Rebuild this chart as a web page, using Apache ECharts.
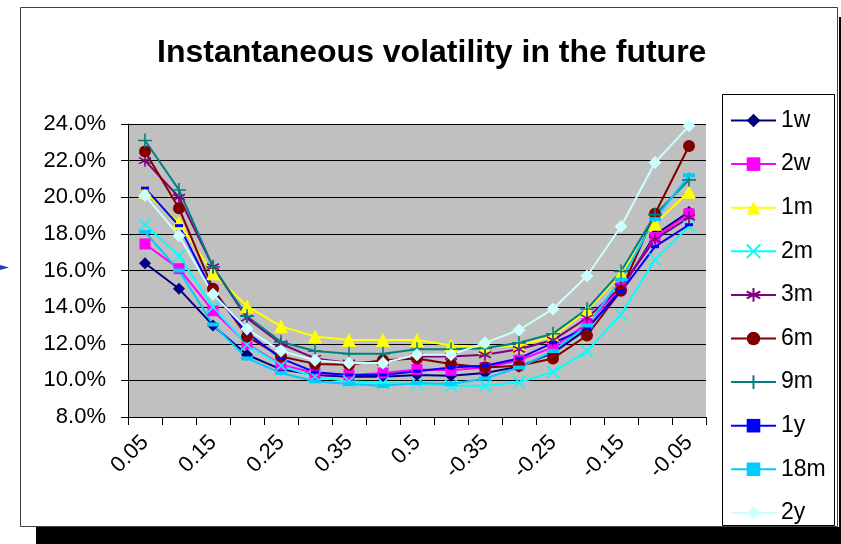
<!DOCTYPE html>
<html>
<head>
<meta charset="utf-8">
<script src="https://cdn.jsdelivr.net/npm/echarts@6/dist/echarts.min.js"></script>
<style>
html,body{margin:0;padding:0;background:#fff;}
#c{width:841px;height:544px;}
</style>
</head>
<body>
<div id="c"></div>
<script>
// ---- data (volatility in %) ----
const categories = ['0.05','0.1','0.15','0.2','0.25','0.3','0.35','0.4','0.5','-0.4','-0.35','-0.3','-0.25','-0.2','-0.15','-0.1','-0.05'];
const yTicks = [8, 10, 12, 14, 16, 18, 20, 22, 24];
const seriesNames = ['1w','2w','1m','2m','3m','6m','9m','1y','18m','2y'];
const w1  = [16.4, 15.0, 13.0, 11.4, 10.6, 10.3, 10.2, 10.2, 10.3, 10.25, 10.4, 10.75, 11.5, 12.8, 14.95, 17.95, 19.2];
const w2  = [17.45, 16.1, 13.8, 12.0, 10.85, 10.4, 10.3, 10.4, 10.6, 10.55, 10.7, 11.1, 11.8, 13.1, 15.05, 17.8, 19.1];
const m1  = [20.3, 18.6, 15.85, 14.05, 12.95, 12.4, 12.2, 12.2, 12.2, 11.9, 11.8, 11.9, 12.4, 13.8, 15.85, 18.55, 20.3];
const m2  = [18.5, 16.8, 14.0, 11.95, 10.8, 10.2, 9.95, 9.85, 9.8, 9.7, 9.7, 9.9, 10.45, 11.6, 13.6, 16.6, 18.4];
const m3  = [22.0, 20.0, 16.2, 13.4, 12.0, 11.2, 10.95, 11.0, 11.3, 11.3, 11.4, 11.7, 12.2, 13.4, 15.1, 17.7, 18.9];
const m6  = [22.5, 19.4, 15.0, 12.4, 11.3, 10.9, 10.85, 11.1, 11.2, 10.9, 10.7, 10.8, 11.2, 12.45, 14.9, 19.1, 22.8];
const m9  = [23.1, 20.4, 16.2, 13.5, 12.1, 11.6, 11.45, 11.45, 11.7, 11.7, 11.75, 12.05, 12.55, 13.9, 15.95, 19.05, 20.95];
const y1  = [20.5, 18.45, 14.8, 12.6, 11.2, 10.45, 10.3, 10.3, 10.5, 10.7, 10.8, 11.2, 12.05, 12.85, 14.85, 17.3, 18.5];
const m18 = [18.1, 16.0, 13.05, 11.2, 10.4, 9.95, 9.8, 9.7, 9.85, 9.8, 10.1, 10.7, 11.6, 13.0, 15.5, 18.8, 21.2];
const y2  = [20.1, 17.9, 14.7, 12.8, 11.6, 11.1, 10.95, 10.95, 11.4, 11.4, 12.05, 12.75, 13.9, 15.7, 18.4, 21.9, 23.9];
const seriesData = [w1, w2, m1, m2, m3, m6, m9, y1, m18, y2];

// ---- styles ----
const colors = ['#000080','#FF00FF','#FFFF00','#00FFFF','#800080','#800000','#008080','#0000FF','#00CCFF','#CCFFFF'];
const CROSS = 'path://M0,0L10,10M10,0L0,10';
const STAR = 'path://M5,0L5,10M0,2.5L10,7.5M0,7.5L10,2.5';
const PLUS = 'path://M5,0L5,10M0,5L10,5';
const DASH = 'path://M0,0L10,0L10,4L0,4Z';
const symbols = ['diamond','rect','triangle',CROSS,STAR,'circle',PLUS,DASH,DASH,'diamond'];
const sizes = [12, 11, 14, 12, 12, 12, 14, [8,3], [12,4], 13];
const stroked = [false,false,false,true,true,false,true,false,false,false];
const FONT = 'Liberation Sans';

const series = seriesNames.map((n, i) => ({
  name: n,
  type: 'line',
  data: seriesData[i],
  symbol: symbols[i],
  symbolSize: sizes[i],
  symbolKeepAspect: false,
  showAllSymbol: true,
  lineStyle: { color: colors[i], width: 2 },
  itemStyle: stroked[i]
    ? { color: colors[i], borderColor: colors[i], borderWidth: 1.6 }
    : { color: colors[i], borderWidth: 0 },
  emphasis: { disabled: true },
  animation: false
}));

const chart = echarts.init(document.getElementById('c'), null, { renderer: 'canvas' });
chart.setOption({
  backgroundColor: '#fff',
  animation: false,
  textStyle: { fontFamily: FONT },
  title: {
    text: 'Instantaneous volatility in the future',
    left: 157, top: 37,
    padding: 0,
    textStyle: { fontFamily: FONT, fontSize: 32, fontWeight: 'bold', color: '#000' }
  },
  legend: {
    orient: 'vertical',
    left: 730, top: 109,
    padding: 0,
    itemWidth: 45, itemHeight: 17,
    itemGap: 20.6,
    itemTextGap: 5,
    textStyle: { fontFamily: FONT, fontSize: 23, lineHeight: 22, color: '#000' },
    data: seriesNames
  },
  grid: { left: 128, right: 135, top: 124, bottom: 127, show: true, backgroundColor: '#C0C0C0', borderWidth: 0 },
  xAxis: {
    type: 'category',
    data: categories,
    boundaryGap: true,
    axisLine: { lineStyle: { color: '#000', width: 1 } },
    axisTick: { show: true, interval: 0, length: 8, lineStyle: { color: '#000' } },
    axisLabel: { interval: 1, rotate: 45, margin: 22, fontFamily: FONT, fontSize: 22, color: '#000' },
    splitLine: { show: false }
  },
  yAxis: {
    type: 'value',
    min: yTicks[0], max: yTicks[yTicks.length - 1], interval: 2,
    axisLine: { show: true, lineStyle: { color: '#000', width: 1 } },
    axisTick: { show: true, length: 7, lineStyle: { color: '#000' } },
    axisLabel: { margin: 22, fontFamily: FONT, fontSize: 22, color: '#000',
      formatter: v => v.toFixed(1) + '%' },
    splitLine: { show: true, lineStyle: { color: '#000', width: 1 } }
  },
  graphic: [
    { type: 'rect', shape: { x: 36, y: 527, width: 805, height: 17 }, style: { fill: '#000' }, z: 0 },
    { type: 'rect', shape: { x: 839, y: 17, width: 2, height: 527 }, style: { fill: '#000' }, z: 0 },
    { type: 'rect', shape: { x: 20.5, y: 7.5, width: 817, height: 519 }, style: { fill: 'none', stroke: '#404040', lineWidth: 1 }, z: 0 },
    { type: 'rect', shape: { x: 722.5, y: 94.5, width: 112, height: 431 }, style: { fill: 'none', stroke: '#000', lineWidth: 1 }, z: 0 },
    { type: 'polygon', shape: { points: [[0,265],[9,267.5],[0,270]] }, style: { fill: '#1F3FBF' }, z: 0 }
  ],
  series: series
});
</script>
</body>
</html>
